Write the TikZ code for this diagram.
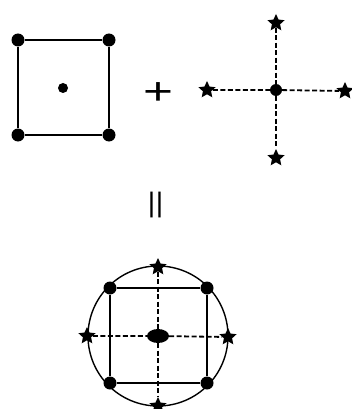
\documentclass[tikz,border=0pt]{standalone}
\usepackage{fontspec}
\setmainfont{Liberation Sans}
\usepackage{tikz}
\usetikzlibrary{shapes.geometric}
\tikzset{
  dot/.style={circle,fill,inner sep=0pt,minimum size=13pt},
  starpt/.style={star,star points=5,star point ratio=2.1,fill,inner sep=0pt,minimum size=18pt},
  dashline/.style={line width=1.8pt,dash pattern=on 5pt off 2.5pt},
  sqline/.style={line width=2pt},
  bigsym/.style={inner sep=0pt}
}

\begin{document}
\begin{tikzpicture}[x=1pt,y=-1pt]
    \useasboundingbox (0,0) rectangle (351,409);

    % square with its middle point
    \node[dot] (a1) at (18,40) {};
    \node[dot] (a2) at (109,40) {};
    \node[dot] (a3) at (18,135) {};
    \node[dot] (a4) at (109,135) {};
    \node[dot,minimum size=10pt] (ac) at (63,88) {};
    \draw[sqline] (a1) -- (a2) -- (a4) -- (a3) -- (a1);

    % plus
    \node[bigsym,font=\fontsize{38}{44}\selectfont] (plus) at (158,94) {\scalebox{1.35}[1]{+}};

    % cross of stars
    \node[dot,minimum size=12pt] (bc) at (276,90) {};
    \node[starpt] (bn) at (276,23) {};
    \node[starpt] (bs) at (276,158) {};
    \node[starpt] (bw) at (207,90) {};
    \node[starpt] (be) at (345,91) {};
    \draw[dashline] (bw) -- (bc) -- (be);
    \draw[dashline] (bn) -- (bc) -- (bs);

    % equals
    \node[bigsym,rotate=90,font=\fontsize{32}{38}\selectfont] (eq) at (158.5,204.5) {\scalebox{1.66}[1]{=}};

    % circle with square and cross
    \node[circle,draw,line width=1.4pt,minimum size=140pt] (ring) at (158,336) {};
    \node[dot] (c1) at (110,288) {};
    \node[dot] (c2) at (207,288) {};
    \node[dot] (c3) at (110,383) {};
    \node[dot] (c4) at (207,383) {};
    \draw[sqline] (c1) -- (c2) -- (c4) -- (c3) -- (c1);
    \node[ellipse,fill,inner sep=0pt,minimum width=22pt,minimum height=14pt] (cc) at (158,336) {};
    \node[starpt] (cn) at (158,267) {};
    \node[starpt] (cs) at (158,406) {};
    \node[starpt] (cw) at (87,336) {};
    \node[starpt] (ce) at (228,337) {};
    \draw[dashline] (cw) -- (cc) -- (ce);
    \draw[dashline] (cn) -- (cc) -- (cs);
\end{tikzpicture}
\end{document}
